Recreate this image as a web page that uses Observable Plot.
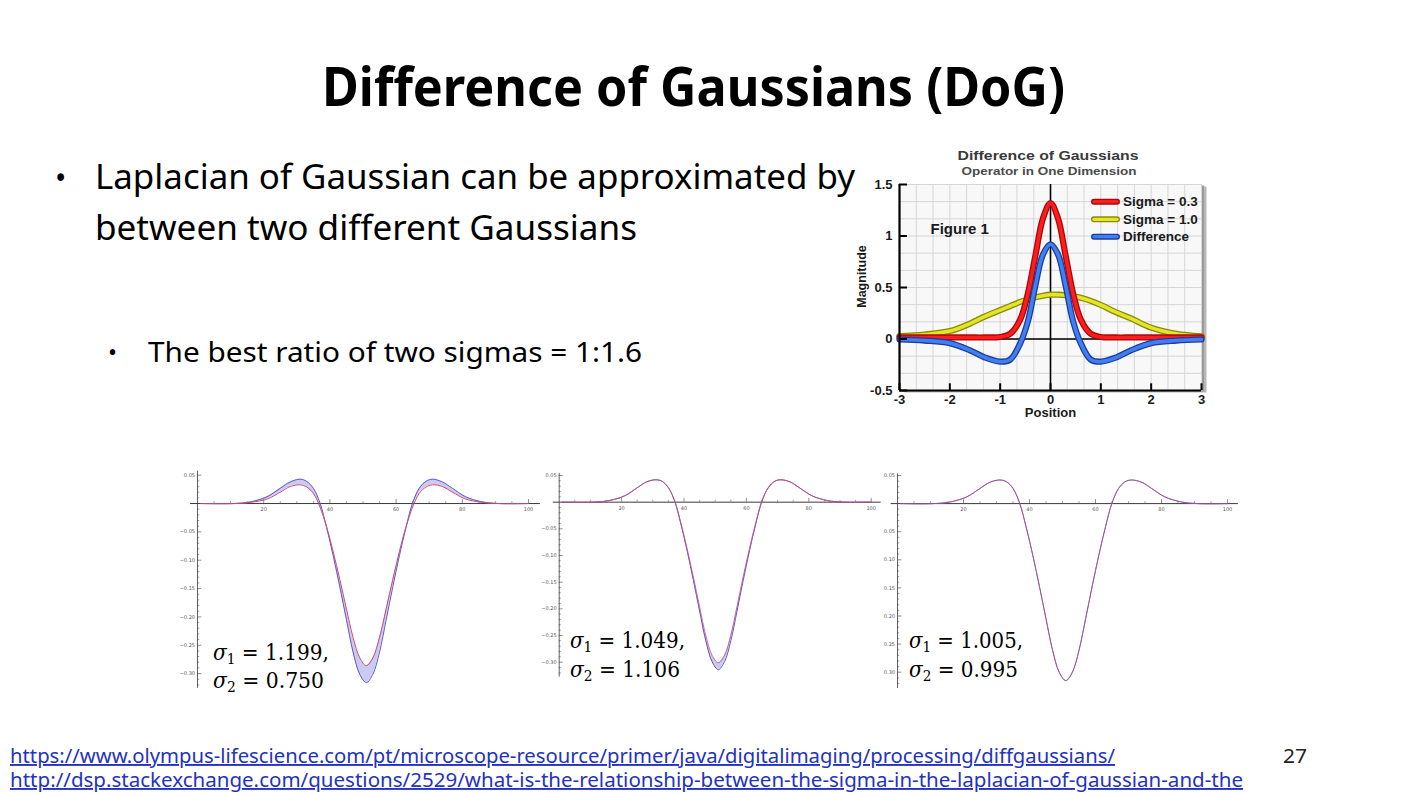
<!DOCTYPE html>
<html><head><meta charset="utf-8">
<script src="https://cdn.jsdelivr.net/npm/d3@7"></script>
<script src="https://cdn.jsdelivr.net/npm/@observablehq/plot@0.6"></script>
<style>
html,body{margin:0;padding:0;background:#fff;}
#slide{position:relative;width:1416px;height:794px;overflow:hidden;background:#fff;}
#slide svg{position:absolute;}
</style></head><body><div id="slide"></div>
<script>
// ---------- Top-right chart (Difference of Gaussians, 1-D) ----------
const posX     = [-3, -2.5, -2, -1.6, -1.3, -1, -0.8, -0.6, -0.45, -0.3, -0.15, 0, 0.15, 0.3, 0.45, 0.6, 0.8, 1, 1.3, 1.6, 2, 2.5, 3];
const sigma03  = [0.015, 0.015, 0.015, 0.015, 0.015, 0.02, 0.05, 0.19, 0.44, 0.81, 1.17, 1.32, 1.17, 0.81, 0.44, 0.19, 0.05, 0.02, 0.015, 0.015, 0.015, 0.015, 0.015];
const sigma10  = [0.027, 0.043, 0.077, 0.15, 0.22, 0.28, 0.32, 0.36, 0.385, 0.405, 0.42, 0.43, 0.43, 0.425, 0.415, 0.40, 0.37, 0.33, 0.26, 0.20, 0.11, 0.05, 0.025];
const diffDoG  = [-0.005, -0.015, -0.04, -0.11, -0.18, -0.22, -0.2, -0.04, 0.17, 0.52, 0.82, 0.92, 0.82, 0.52, 0.17, -0.04, -0.2, -0.22, -0.18, -0.11, -0.04, -0.015, -0.005];
const topXTicks = [-3, -2, -1, 0, 1, 2, 3];
const topYTicks = [-0.5, 0, 0.5, 1, 1.5];
const legendLabels = ["Sigma = 0.3", "Sigma = 1.0", "Difference"];

// ---------- Bottom charts (Mathematica plots) ----------
const sampleX = [1, 11, 16, 21, 25, 28, 31, 33, 35, 37, 39, 41, 43, 45, 47, 49, 51, 53, 55, 57, 59, 61, 63, 65, 67, 69, 71, 74, 77, 81, 86, 91, 100];
const blue1 = [0, 0, 0.003, 0.012, 0.027, 0.038, 0.043, 0.039, 0.027, 0.001, -0.042, -0.092, -0.147, -0.205, -0.262, -0.301, -0.316, -0.301, -0.262, -0.205, -0.147, -0.092, -0.042, 0.001, 0.027, 0.039, 0.043, 0.038, 0.027, 0.012, 0.003, 0, 0];
const red1  = [0, 0, 0.002, 0.008, 0.020, 0.030, 0.033, 0.029, 0.018, -0.006, -0.041, -0.085, -0.134, -0.186, -0.236, -0.272, -0.286, -0.272, -0.236, -0.186, -0.134, -0.085, -0.041, -0.006, 0.018, 0.029, 0.033, 0.030, 0.020, 0.008, 0.002, 0, 0];
const blue2 = [0, 0, 0.003, 0.012, 0.027, 0.038, 0.042, 0.039, 0.027, 0.002, -0.041, -0.091, -0.146, -0.204, -0.260, -0.299, -0.314, -0.299, -0.260, -0.204, -0.146, -0.091, -0.041, 0.002, 0.027, 0.039, 0.042, 0.038, 0.027, 0.012, 0.003, 0, 0];
const red2  = [0, 0, 0.003, 0.012, 0.027, 0.038, 0.042, 0.039, 0.027, 0.003, -0.039, -0.087, -0.140, -0.196, -0.250, -0.287, -0.301, -0.287, -0.250, -0.196, -0.140, -0.087, -0.039, 0.003, 0.027, 0.039, 0.042, 0.038, 0.027, 0.012, 0.003, 0, 0];
const blue3 = [0, 0, 0.003, 0.012, 0.027, 0.038, 0.042, 0.039, 0.027, 0.001, -0.042, -0.092, -0.147, -0.205, -0.261, -0.300, -0.315, -0.300, -0.261, -0.205, -0.147, -0.092, -0.042, 0.001, 0.027, 0.039, 0.042, 0.038, 0.027, 0.012, 0.003, 0, 0];
const red3  = [0, 0, 0.003, 0.012, 0.027, 0.038, 0.042, 0.039, 0.027, 0.001, -0.042, -0.092, -0.147, -0.205, -0.261, -0.300, -0.315, -0.300, -0.261, -0.205, -0.147, -0.092, -0.042, 0.001, 0.027, 0.039, 0.042, 0.038, 0.027, 0.012, 0.003, 0, 0];
const smallXTicks = [20, 40, 60, 80, 100];
const smallXMinor = [5, 10, 15, 25, 30, 35, 45, 50, 55, 65, 70, 75, 85, 90, 95];
const smallYTicks = [0.05, -0.05, -0.10, -0.15, -0.20, -0.25, -0.30];
const smallYMinor = [0.04, 0.03, 0.02, 0.01, -0.01, -0.02, -0.03, -0.04, -0.06, -0.07, -0.08, -0.09, -0.11, -0.12, -0.13, -0.14, -0.16, -0.17, -0.18, -0.19, -0.21, -0.22, -0.23, -0.24, -0.26, -0.27, -0.28, -0.29, -0.31, -0.32];
const sigma1Labels = ["1.199", "1.049", "1.005"];
const sigma2Labels = ["0.750", "1.106", "0.995"];

// ---------- Slide texts ----------
const slideTitle = "Difference of Gaussians (DoG)";
const bulletLines = ["Laplacian of Gaussian can be approximated by", "between two different Gaussians"];
const subBullet = "The best ratio of two sigmas = 1:1.6";
const links = ["https://www.olympus-lifescience.com/pt/microscope-resource/primer/java/digitalimaging/processing/diffgaussians/",
               "http://dsp.stackexchange.com/questions/2529/what-is-the-relationship-between-the-sigma-in-the-laplacian-of-gaussian-and-the"];
const pageNumber = "27";

const slide = document.getElementById("slide");

// ===== top-right chart =====
const topRows = posX.map((x, i) => ({x, s03: sigma03[i], s10: sigma10[i], diff: diffDoG[i]}));
function tube(key, outer, inner) {
  return [
    Plot.line(topRows, {x: "x", y: key, stroke: outer, strokeWidth: 6.2, curve: "catmull-rom"}),
    Plot.line(topRows, {x: "x", y: key, stroke: inner, strokeWidth: 3.6, curve: "catmull-rom"})
  ];
}
const topChart = Plot.plot({
  width: 370, height: 250,
  marginLeft: 49, marginRight: 19, marginTop: 6, marginBottom: 38,
  x: {domain: [-3, 3], axis: null},
  y: {domain: [-0.5, 1.5], axis: null},
  style: {background: "transparent", fontFamily: "Liberation Sans, Arial, sans-serif", fontWeight: "bold", fontSize: "12px", color: "#1a1a1a", overflow: "visible"},
  marks: [
    Plot.frame({fill: "#b8b8b8", dx: 5, dy: 2}),
    Plot.frame({fill: "#9a9a9a", dx: 2.5, dy: 1}),
    Plot.frame({fill: "#f8f8f8"}),
    Plot.gridX(d3.range(-3, 3.001, 1 / 3), {stroke: "#d6d6d6", strokeOpacity: 1, strokeWidth: 1}),
    Plot.gridY(d3.range(-0.5, 1.501, 1 / 6), {stroke: "#d6d6d6", strokeOpacity: 1, strokeWidth: 1}),
    Plot.ruleY([0], {stroke: "#000", strokeWidth: 1.4}),
    Plot.ruleX([0], {y1: -0.5, y2: 1.5, stroke: "#000", strokeWidth: 1.6}),
    ...tube("s10", "#8a8a05", "#e4e42a"),
    ...tube("s03", "#a80808", "#ff1c1c"),
    ...tube("diff", "#1c3c9c", "#3f7ff0"),
    Plot.ruleX([-3], {y1: -0.5, y2: 1.5, stroke: "#000", strokeWidth: 2.2}),
    Plot.ruleY([-0.5], {x1: -3, x2: 3, stroke: "#000", strokeWidth: 2.2}),
    Plot.ruleX(topXTicks, {x: d => d, y1: -0.5, y2: -0.435, stroke: "#000", strokeWidth: 2}),
    Plot.ruleY(topYTicks, {y: d => d, x1: -3, x2: -2.84, stroke: "#000", strokeWidth: 2}),
    Plot.text(topXTicks, {x: d => d, y: -0.5, dy: 9, fontSize: 13, text: d => String(d)}),
    Plot.text(topYTicks, {x: -3, y: d => d, dx: -7, fontSize: 13, textAnchor: "end", text: d => String(d)}),
    Plot.text(["Magnitude"], {frameAnchor: "left", rotate: -90, dx: -38, dy: -11, fontSize: 12.5, textAnchor: "middle"}),
    Plot.text(["Position"], {frameAnchor: "bottom", dy: 26, fontSize: 13, textAnchor: "middle"}),
    Plot.text(["Figure 1"], {frameAnchor: "top-left", dx: 31, dy: 39, fontSize: 15, textAnchor: "start"})
  ]
});
topChart.style.left = "850px";
topChart.style.top = "178px";
slide.appendChild(topChart);

// ===== bottom charts =====
function smallChart(cfg) {
  const rows = sampleX.map((x, i) => ({x, blue: cfg.blue[i], red: cfg.red[i]}));
  const chart = Plot.plot({
    width: cfg.w, height: cfg.h,
    marginLeft: cfg.ml, marginRight: cfg.mr, marginTop: cfg.mt, marginBottom: cfg.mb,
    x: {domain: [0, 100], axis: null},
    y: {domain: [-0.30, 0.05], axis: null},
    style: {background: "transparent", fontFamily: "DejaVu Sans, sans-serif", fontSize: "5px", color: "#555", overflow: "visible"},
    marks: [
      cfg.band ? Plot.areaY(rows, {x: "x", y1: "red", y2: "blue", fill: "#bdbdf0", fillOpacity: 0.8, curve: "catmull-rom"}) : null,
      Plot.ruleY([0], {x1: cfg.xa[0], x2: cfg.xa[1], stroke: "#3a3a3a", strokeWidth: 1}),
      Plot.ruleX([0], {y1: cfg.ya[0], y2: cfg.ya[1], stroke: "#3a3a3a", strokeWidth: 0.8}),
      Plot.ruleX(smallXTicks, {x: d => d, y1: 0, y2: 0.007, stroke: "#444", strokeWidth: 0.6}),
      Plot.ruleX(smallXMinor, {x: d => d, y1: 0, y2: 0.0035, stroke: "#444", strokeWidth: 0.5}),
      Plot.ruleY(smallYTicks, {y: d => d, x1: 0, x2: 1.3, stroke: "#444", strokeWidth: 0.6}),
      Plot.ruleY(smallYMinor, {y: d => d, x1: 0, x2: 0.7, stroke: "#444", strokeWidth: 0.5}),
      Plot.text(smallXTicks, {x: d => d, y: 0, dy: 6, text: d => String(d)}),
      Plot.text(smallYTicks, {x: 0, y: d => d, dx: -2.5, textAnchor: "end", text: cfg.fmt}),
      Plot.line(rows, {x: "x", y: "blue", stroke: "#5a5ac8", strokeWidth: 1, curve: "catmull-rom"}),
      Plot.line(rows, {x: "x", y: "red", stroke: "#cc4a70", strokeWidth: 1, strokeOpacity: cfg.redOp, curve: "catmull-rom"})
    ]
  });
  chart.style.left = cfg.left + "px";
  chart.style.top = cfg.top + "px";
  slide.appendChild(chart);
}
const signedFmt = d => (d > 0 ? d.toFixed(2) : "\u2212" + Math.abs(d).toFixed(2));
const absFmt = d => Math.abs(d).toFixed(2);
smallChart({left: 170, top: 462, w: 375, h: 232, ml: 27, mr: 17, mt: 12.7, mb: 20.9,
  blue: blue1, red: red1, band: true, redOp: 1, xa: [-2.1, 103.6], ya: [-0.326, 0.057], fmt: signedFmt});
smallChart({left: 535, top: 462, w: 355, h: 232, ml: 23.7, mr: 19.3, mt: 13, mb: 32.3,
  blue: blue2, red: red2, band: true, redOp: 0.8, xa: [-1.9, 103.2], ya: [-0.328, 0.054], fmt: signedFmt});
smallChart({left: 870, top: 462, w: 375, h: 232, ml: 27, mr: 18, mt: 13, mb: 22.3,
  blue: blue3, red: red3, band: false, redOp: 0.6, xa: [-1.9, 103.3], ya: [-0.329, 0.053], fmt: absFmt});

// ===== overlay with slide texts =====
const svg = d3.create("svg").attr("width", 1416).attr("height", 794)
  .style("left", "0px").style("top", "0px").style("pointer-events", "none");
function fitText(x, y, str, size, width, opts = {}) {
  const t = svg.append("text").attr("x", x).attr("y", y)
    .attr("font-family", opts.family || "'Noto Sans', 'Open Sans', sans-serif")
    .attr("font-size", size).attr("font-weight", opts.weight || "normal")
    .attr("fill", opts.fill || "#000").attr("text-anchor", opts.anchor || "start")
    .text(str);
  if (width) t.attr("textLength", width).attr("lengthAdjust", "spacingAndGlyphs");
  if (opts.underline) t.attr("text-decoration", "underline");
  return t;
}
fitText(322, 106, slideTitle, 53, 743, {weight: "bold"});
fitText(55, 189, "\u2022", 30, null);
fitText(95, 189, bulletLines[0], 34, 760);
fitText(95, 240, bulletLines[1], 34, 542);
fitText(108, 361, "\u2022", 24, null);
fitText(148, 362, subBullet, 28, 494);
fitText(10, 763, links[0], 19, 1105, {fill: "#2332c4", underline: true});
fitText(10, 787, links[1], 19, 1233, {fill: "#2332c4", underline: true});
fitText(1283, 763, pageNumber, 20, 24, {fill: "#222"});

// top-right chart title, subtitle, legend
fitText(1048, 160, "Difference of Gaussians", 13.5, 181, {family: "'Liberation Sans', Arial, sans-serif", weight: "bold", fill: "#3a3a3a", anchor: "middle"});
fitText(1049, 175, "Operator in One Dimension", 11, 175, {family: "'Liberation Sans', Arial, sans-serif", weight: "bold", fill: "#4a4a4a", anchor: "middle"});
const legendColors = [["#a80808", "#ff1c1c"], ["#8a8a05", "#e4e42a"], ["#1c3c9c", "#3f7ff0"]];
const legendY = [201.7, 219.3, 236.7];
legendLabels.forEach((lab, i) => {
  svg.append("line").attr("x1", 1094).attr("x2", 1117).attr("y1", legendY[i]).attr("y2", legendY[i])
    .attr("stroke", legendColors[i][0]).attr("stroke-width", 6).attr("stroke-linecap", "round");
  svg.append("line").attr("x1", 1094).attr("x2", 1117).attr("y1", legendY[i]).attr("y2", legendY[i])
    .attr("stroke", legendColors[i][1]).attr("stroke-width", 3.2).attr("stroke-linecap", "round");
  fitText(1123, legendY[i] + 4.6, lab, 13.5, null, {family: "'Liberation Sans', Arial, sans-serif", weight: "bold", fill: "#1a1a1a"});
});

// sigma labels
const sigmaPos = [[213, 659.5, 687.7, 116, 111], [570, 648.3, 676.5, 115, 110], [909, 648.3, 676.5, 114, 109]];
sigmaPos.forEach((p, i) => {
  [[1, sigma1Labels[i] + ",", p[1], p[3]], [2, sigma2Labels[i], p[2], p[4]]].forEach(([k, val, y, w]) => {
    const t = svg.append("text").attr("x", p[0]).attr("y", y)
      .attr("font-family", "'DejaVu Serif', 'Liberation Serif', serif").attr("font-size", 22).attr("fill", "#000")
      .attr("textLength", w).attr("lengthAdjust", "spacingAndGlyphs");
    t.append("tspan").attr("font-style", "italic").text("\u03C3");
    t.append("tspan").attr("font-size", 15).attr("dy", 4).text(String(k));
    t.append("tspan").attr("dy", -4).text(" = " + val);
  });
});
slide.appendChild(svg.node());
</script>
</body></html>
